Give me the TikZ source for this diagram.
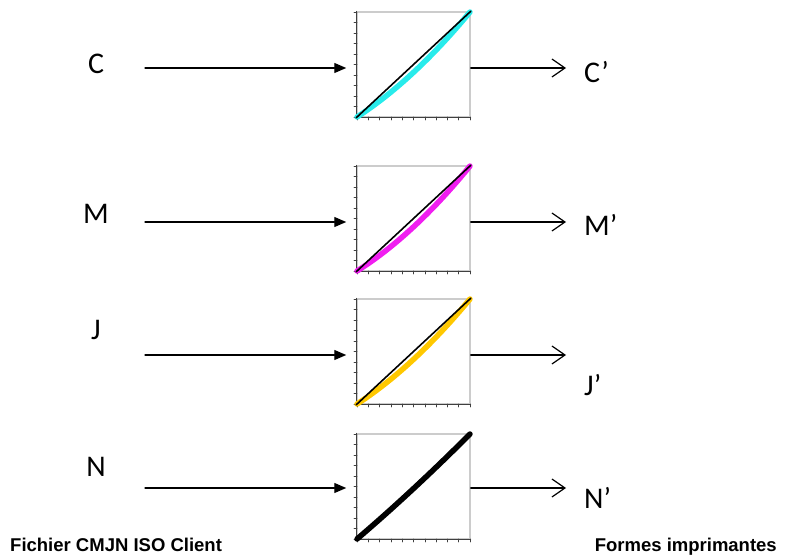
\documentclass[tikz,border=0pt]{standalone}
\usepackage{fontspec}
\setmainfont{Carlito}
\newfontfamily\arial{Liberation Sans}
\usetikzlibrary{arrows.meta}
\definecolor{cyanC}{RGB}{40,235,235}
\definecolor{magentaM}{RGB}{240,30,240}
\definecolor{jauneJ}{RGB}{255,200,0}
\begin{document}
\begin{tikzpicture}[x=1pt, y=-1pt, line cap=round,
    boite/.style={draw=gray!40, line width=1.5pt, minimum width=113pt, minimum height=105pt, inner sep=0pt},
    axe/.style={black!75, line width=0.8pt},
    fleche/.style={line width=1.2pt, shorten >=10pt, -{Triangle[length=12pt,width=10pt]}},
    sortie/.style={line width=1.2pt, -{Straight Barb[length=13pt,width=18pt,line width=1.2pt]}},
    lettre/.style={font=\fontsize{30}{32}\selectfont, inner sep=0pt},
    titre/.style={font=\arial\bfseries\fontsize{18.5}{22}\selectfont, inner sep=0pt}]
    \useasboundingbox (0,0) rectangle (787,556);
    % one row per channel: name/top of box/arrow y/label y/output label y/colour/bend
    \foreach \nom/\haut/\ya/\yl/\yo/\col/\bend in {C/12/68/64/72/cyanC/0.30,
        M/166/222/214/225/magentaM/0.32, J/299/355/330/385/jauneJ/0.30, N/434/488/467/498/black/0.08}{
        % box and axes
        \node[boite] (b\nom) at (413.5,\haut+52.5) {};
        \draw[axe] (b\nom.north west) -- (b\nom.south west) -- (b\nom.south east);
        \foreach \i in {0,...,10}{
            \draw[axe, line width=0.6pt] (357,{\haut+105-10.5*\i}) -- ++(-3,0);
            \draw[axe, line width=0.6pt] ({357+11.3*\i},\haut+105) -- ++(0,3);
        }
        % curves
        \draw[\col, line width=5.5pt] plot[domain=0:1, samples=25] ({357+113*\x},{\haut+105-105*(\x-\bend*\x*(1-\x))});
        \draw[black, line width=1.6pt] (b\nom.south west) -- (b\nom.north east);
        % labels and arrows
        \node[lettre] (l\nom) at (96,\yl) {\nom};
        \node[lettre, anchor=west] (s\nom) at (584,\yo) {\nom’};
        \coordinate (e\nom) at (145,\ya);
        \coordinate (f\nom) at (566,\ya);
        \draw[fleche] (e\nom) -- (e\nom -| b\nom.west);
        \draw[sortie] (b\nom.east |- e\nom) -- (f\nom);
    }
    \node[titre, anchor=base west] (client) at (10,551) {Fichier CMJN ISO Client};
    \node[titre, anchor=base east] (formes) at (777,551) {Formes imprimantes};
\end{tikzpicture}
\end{document}
